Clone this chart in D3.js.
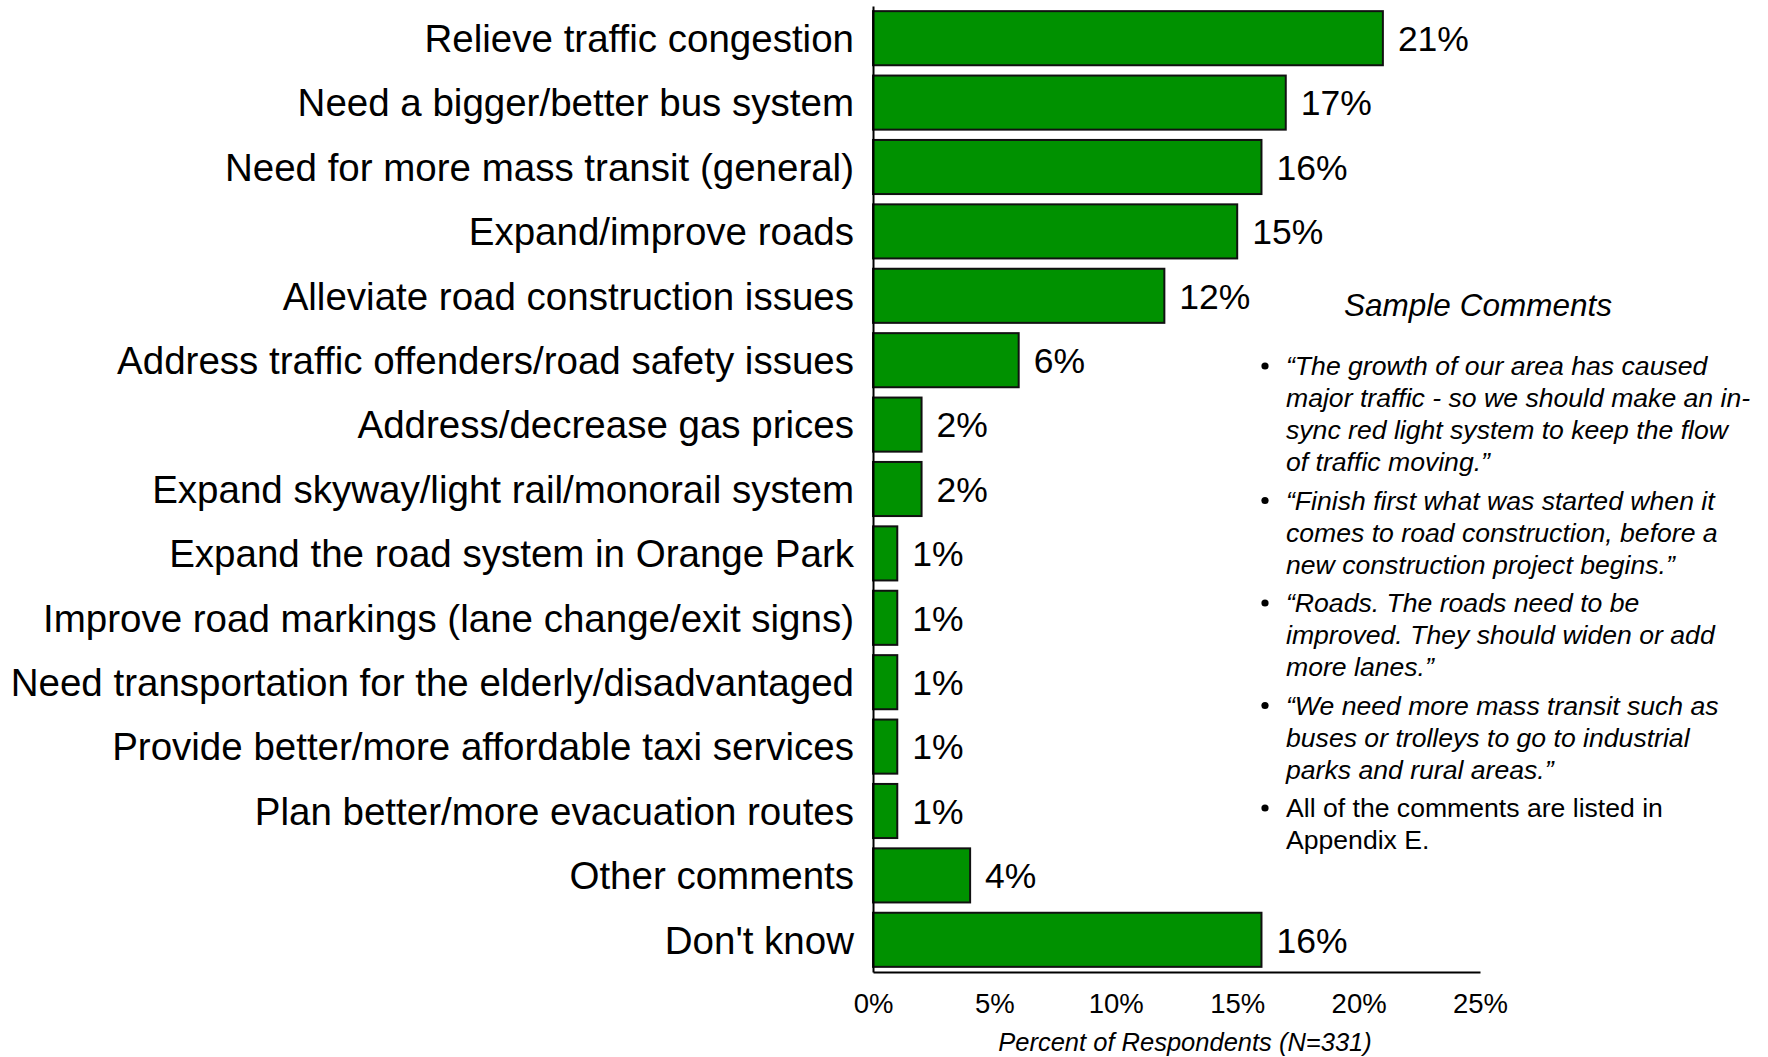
<!DOCTYPE html>
<html>
<head>
<meta charset="utf-8">
<script src="https://cdn.jsdelivr.net/npm/d3@7"></script>
<style>
  html, body { margin: 0; padding: 0; background: #fff; }
  svg { display: block; font-family: "Liberation Sans", Arial, sans-serif; }
</style>
</head>
<body>
<svg id="chart" width="1768" height="1057"></svg>
<script>
// Transportation improvement suggestions, percent of respondents
const categories = [
  "Relieve traffic congestion",
  "Need a bigger/better bus system",
  "Need for more mass transit (general)",
  "Expand/improve roads",
  "Alleviate road construction issues",
  "Address traffic offenders/road safety issues",
  "Address/decrease gas prices",
  "Expand skyway/light rail/monorail system",
  "Expand the road system in Orange Park",
  "Improve road markings (lane change/exit signs)",
  "Need transportation for the elderly/disadvantaged",
  "Provide better/more affordable taxi services",
  "Plan better/more evacuation routes",
  "Other comments",
  "Don't know"
];
const values = [21, 17, 16, 15, 12, 6, 2, 2, 1, 1, 1, 1, 1, 4, 16];
const xTicks = [0, 5, 10, 15, 20, 25];
const axisTitle = "Percent of Respondents (N=331)";

const commentsTitle = "Sample Comments";
// each bullet: its wrapped lines and whether it is a quotation (italic)
const comments = [
  { italic: true, lines: ["\u201CThe growth of our area has caused", "major traffic - so we should make an in-", "sync red light system to keep the flow", "of traffic moving.\u201D"] },
  { italic: true, lines: ["\u201CFinish first what was started when it", "comes to road construction, before a", "new construction project begins.\u201D"] },
  { italic: true, lines: ["\u201CRoads. The roads need to be", "improved. They should widen or add", "more lanes.\u201D"] },
  { italic: true, lines: ["\u201CWe need more mass transit such as", "buses or trolleys to go to industrial", "parks and rural areas.\u201D"] },
  { italic: false, lines: ["All of the comments are listed in", "Appendix E."] }
];

const svg = d3.select("#chart");

const x = d3.scaleLinear().domain([0, 25]).range([873, 1480]);
const y = d3.scaleBand().domain(categories).range([6, 972]).paddingInner(0.16).paddingOuter(0.08);

// bars
svg.append("g").selectAll("rect")
  .data(values)
  .join("rect")
  .attr("x", x(0))
  .attr("y", (d, i) => y(categories[i]))
  .attr("width", d => x(d) - x(0))
  .attr("height", y.bandwidth())
  .attr("fill", "#009100")
  .attr("stroke", "#111")
  .attr("stroke-width", 2);

// value labels
svg.append("g").selectAll("text")
  .data(values)
  .join("text")
  .attr("x", d => x(d) + 15)
  .attr("y", (d, i) => y(categories[i]) + y.bandwidth() / 2)
  .attr("dy", "0.36em")
  .attr("font-size", 35.5)
  .attr("fill", "#000")
  .text(d => d + "%");

// category axis
const yAxis = svg.append("g")
  .attr("transform", `translate(${x(0)},0)`)
  .call(d3.axisLeft(y).tickSize(0).tickPadding(19))
  .attr("font-family", null)
  .attr("font-size", null);
yAxis.select(".domain").attr("stroke", "#000").attr("stroke-width", 2);
yAxis.selectAll("text").attr("font-size", 38.5).attr("fill", "#000").attr("dy", "0.36em");

// value axis
const xAxis = svg.append("g")
  .attr("transform", `translate(0,972)`)
  .call(d3.axisBottom(x).tickValues(xTicks).tickFormat(d => d + "%").tickSize(0).tickPadding(21))
  .attr("font-family", null)
  .attr("font-size", null);
xAxis.select(".domain").attr("stroke", "#000").attr("stroke-width", 2);
xAxis.selectAll("text").attr("font-size", 27.5).attr("fill", "#000");

svg.append("text")
  .attr("x", 1185)
  .attr("y", 1051)
  .attr("text-anchor", "middle")
  .attr("font-size", 25.5)
  .attr("font-style", "italic")
  .text(axisTitle);

// comments panel
svg.append("text")
  .attr("x", 1478)
  .attr("y", 316)
  .attr("text-anchor", "middle")
  .attr("font-size", 31.5)
  .attr("font-style", "italic")
  .text(commentsTitle);

const lineH = 32, groupGap = 6.5;
let baseY = 375;
const panel = svg.append("g");
comments.forEach(c => {
  panel.append("circle")
    .attr("cx", 1265)
    .attr("cy", baseY - 9)
    .attr("r", 3.6)
    .attr("fill", "#000");
  const t = panel.append("text")
    .attr("font-size", 26.6)
    .attr("font-style", c.italic ? "italic" : "normal");
  c.lines.forEach((ln, j) => {
    t.append("tspan").attr("x", 1286).attr("y", baseY + j * lineH).text(ln);
  });
  baseY += c.lines.length * lineH + groupGap;
});
</script>
</body>
</html>
